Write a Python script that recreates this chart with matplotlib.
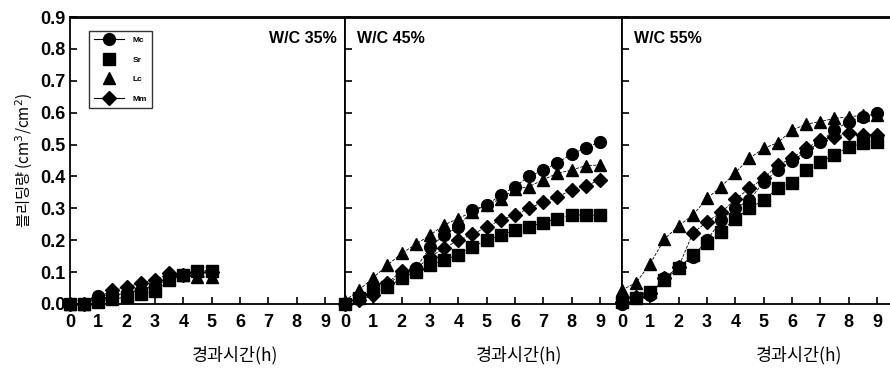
import matplotlib.pyplot as plt
import numpy as np
from matplotlib.lines import Line2D

plt.rcParams['font.family'] = ['Liberation Sans', 'Noto Sans CJK KR', 'DejaVu Sans']

# 경과시간 (h)
t35 = np.arange(0, 5.01, 0.5)
t_long = np.arange(0, 9.01, 0.5)

series = ['Mc', 'Sr', 'Lc', 'Mm']
markers = {'Mc': 'o', 'Sr': 's', 'Lc': '^', 'Mm': 'D'}

# W/C 35%
mc35 = [0, 0, 0.025, 0.03, 0.035, 0.045, 0.06, 0.08, 0.09, 0.10, 0.10]
sr35 = [0, 0, 0.005, 0.015, 0.022, 0.032, 0.04, 0.075, 0.09, 0.105, 0.105]
lc35 = [0, 0, 0.015, 0.025, 0.033, 0.045, 0.055, 0.08, 0.09, 0.085, 0.085]
mm35 = [0, 0, 0.02, 0.045, 0.054, 0.065, 0.075, 0.096, 0.09, 0.10, 0.10]

# W/C 45%
mc45 = [0, 0.018, 0.044, 0.06, 0.096, 0.112, 0.178, 0.216, 0.242, 0.295, 0.31,
        0.342, 0.368, 0.40, 0.42, 0.443, 0.47, 0.49, 0.509]
sr45 = [0, 0.018, 0.044, 0.054, 0.08, 0.101, 0.122, 0.138, 0.154, 0.18, 0.20,
        0.216, 0.232, 0.242, 0.255, 0.268, 0.279, 0.279, 0.279]
lc45 = [0.01, 0.044, 0.083, 0.122, 0.159, 0.187, 0.216, 0.248, 0.268, 0.29, 0.31,
        0.33, 0.36, 0.368, 0.39, 0.41, 0.42, 0.434, 0.436]
mm45 = [0, 0.012, 0.028, 0.065, 0.105, 0.109, 0.148, 0.175, 0.20, 0.218, 0.242,
        0.263, 0.28, 0.30, 0.32, 0.336, 0.357, 0.371, 0.389]

# W/C 55%
mc55 = [0, 0.018, 0.028, 0.08, 0.117, 0.148, 0.20, 0.263, 0.30, 0.326, 0.383,
        0.42, 0.449, 0.478, 0.509, 0.545, 0.572, 0.587, 0.598]
sr55 = [0.007, 0.018, 0.039, 0.075, 0.112, 0.154, 0.19, 0.227, 0.268, 0.30, 0.326,
        0.363, 0.378, 0.42, 0.446, 0.467, 0.493, 0.504, 0.509]
lc55 = [0.044, 0.067, 0.127, 0.204, 0.245, 0.279, 0.331, 0.368, 0.412, 0.457, 0.488,
        0.506, 0.545, 0.564, 0.572, 0.582, 0.587, 0.592, 0.592]
mm55 = [0.007, 0.023, 0.033, 0.08, 0.117, 0.222, 0.258, 0.287, 0.328, 0.363, 0.394,
        0.436, 0.457, 0.488, 0.514, 0.525, 0.535, 0.53, 0.53]

panels = [
    ('W/C 35%', t35, {'Mc': mc35, 'Sr': sr35, 'Lc': lc35, 'Mm': mm35}),
    ('W/C 45%', t_long, {'Mc': mc45, 'Sr': sr45, 'Lc': lc45, 'Mm': mm45}),
    ('W/C 55%', t_long, {'Mc': mc55, 'Sr': sr55, 'Lc': lc55, 'Mm': mm55}),
]

W, H = 890, 370
fig = plt.figure(figsize=(W / 100, H / 100), dpi=100)

unit = 28.33  # px per hour
edges = [(70, 345), (345, 622), (622, 890)]
y0, y1 = 304, 17
label_pos = [0.60, 0.63, 0.66]
kr = ['Noto Sans CJK KR', 'DejaVu Sans']

for i, ((x0, x1), (title, t, data)) in enumerate(zip(edges, panels)):
    ax = fig.add_axes([x0 / W, 1 - y0 / H, (x1 - x0) / W, (y0 - y1) / H])
    for name in series:
        ax.plot(t, data[name], marker=markers[name], color='black',
                ms=8.5 if name != 'Mm' else 7.5, lw=0.6, ls='--', clip_on=False,
                zorder=3)
    ax.set_xlim(0, (x1 - x0) / unit)
    ax.set_ylim(0, 0.9)
    ax.set_xticks(range(10))
    ax.set_xticklabels([str(k) for k in range(10)], fontsize=13, fontweight='bold')
    ax.set_yticks(np.arange(0, 0.91, 0.1))
    if i == 0:
        ax.set_yticklabels(['%.1f' % v for v in np.arange(0, 0.91, 0.1)],
                           fontsize=13, fontweight='bold')
    else:
        ax.set_yticklabels([])
    ax.tick_params(direction='in', length=5, width=1.2, right=False, top=False)
    ax.tick_params(axis='x', pad=7)
    ax.tick_params(axis='y', pad=3)
    for s in ax.spines.values():
        s.set_linewidth(1.3)
    ax.spines['top'].set_linewidth(2)
    if i == 2:
        ax.spines['right'].set_visible(False)
    if i == 0:
        ax.text(0.97, 0.95, title, transform=ax.transAxes, ha='right', va='top',
                fontsize=11.5, fontweight='bold')
    else:
        ax.text(0.045, 0.95, title, transform=ax.transAxes, ha='left', va='top',
                fontsize=11.5, fontweight='bold')
    ax.text(label_pos[i], -0.18, '경과시간(h)', transform=ax.transAxes,
            ha='center', va='center', fontsize=12.5, family=kr)

    if i == 0:
        ax.set_ylabel('블리딩량 (cm$^3$/cm$^2$)', fontsize=11, labelpad=4,
                      family=kr)
        handles = [
            Line2D([], [], color='black', marker='o', ms=8.5, lw=0.8),
            Line2D([], [], color='black', marker='s', ms=8.5, lw=0),
            Line2D([], [], color='black', marker='^', ms=8.5, lw=0),
            Line2D([], [], color='black', marker='D', ms=7.5, lw=0.8),
        ]
        leg = ax.legend(handles, series, loc='upper left',
                        bbox_to_anchor=(0.055, 0.965), frameon=True, fancybox=False,
                        edgecolor='black', handlelength=3.6, labelspacing=1.4,
                        borderpad=0.6, handletextpad=1.0,
                        prop={'size': 6, 'weight': 'bold'})
        leg.get_frame().set_linewidth(1.0)

fig.savefig('out.png', dpi=100)
